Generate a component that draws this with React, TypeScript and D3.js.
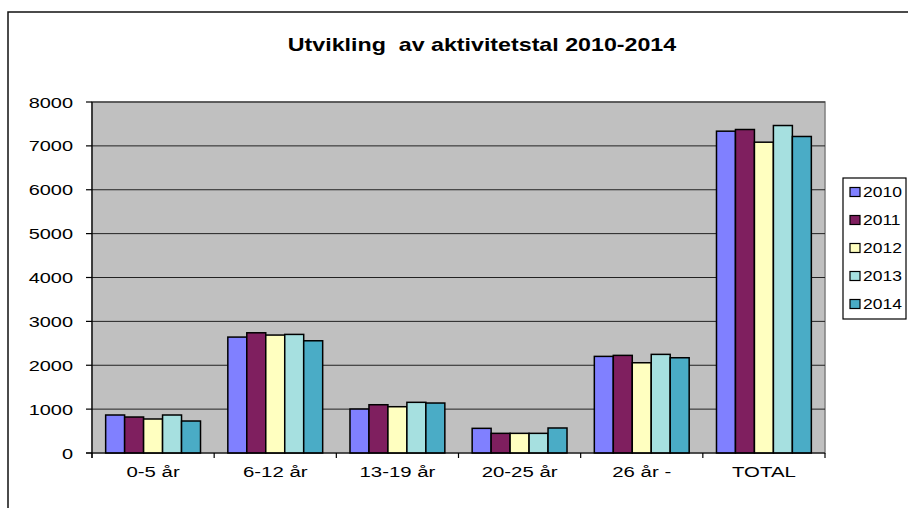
import React from 'react'
import * as d3 from 'd3'

const categories = ['0-5 år', '6-12 år', '13-19 år', '20-25 år', '26 år -', 'TOTAL']
const years = ['2010', '2011', '2012', '2013', '2014']
const values2010 = [866, 2642, 1002, 562, 2202, 7335]
const values2011 = [820, 2740, 1100, 448, 2225, 7373]
const values2012 = [775, 2688, 1055, 448, 2057, 7084]
const values2013 = [866, 2703, 1155, 448, 2248, 7464]
const values2014 = [729, 2558, 1139, 570, 2171, 7214]
const yearColors = ['#8080ff', '#7f1f5f', '#ffffc0', '#a6e0e0', '#4aacc6']
const yTicks = [0, 1000, 2000, 3000, 4000, 5000, 6000, 7000, 8000]
const title = 'Utvikling  av aktivitetstal 2010-2014'

const series = [values2010, values2011, values2012, values2013, values2014]

const App = () => {
  const svgRef = React.useRef<SVGSVGElement>(null)
  const width = 908
  const height = 508

  React.useEffect(() => {
    const svg = d3.select(svgRef.current)
    svg.selectAll('*').remove()

    const font = "'Liberation Sans', Arial, sans-serif"
    const stretch = 1.33 // the source image is widened horizontally
    const plot = { left: 92, right: 825, top: 102, bottom: 453 }

    const x0 = d3.scaleBand().domain(categories).range([plot.left, plot.right])
    const x1 = d3.scaleBand().domain(years).range([0, x0.bandwidth()]).paddingOuter(0.72)
    const y = d3.scaleLinear().domain([0, 8000]).range([plot.bottom, plot.top])

    // outer chart frame
    svg.append('rect')
      .attr('x', 8).attr('y', 12)
      .attr('width', 1000).attr('height', 1000)
      .attr('fill', 'white').attr('stroke', '#111').attr('stroke-width', 1.5)

    const stretchedText = (g, x: number, yy: number, txt: string, anchor: string, size: number, sx: number) =>
      g.append('text')
        .attr('transform', `translate(${x},${yy}) scale(${sx},1)`)
        .attr('text-anchor', anchor)
        .style('font-family', font)
        .style('font-size', `${size}px`)
        .style('white-space', 'pre')
        .text(txt)

    stretchedText(svg, 482, 51, title, 'middle', 18, 1.29).style('font-weight', 'bold')

    // plot area
    svg.append('rect')
      .attr('x', plot.left).attr('y', plot.top)
      .attr('width', plot.right - plot.left).attr('height', plot.bottom - plot.top)
      .attr('fill', '#c0c0c0').attr('stroke', '#808080').attr('stroke-width', 1.5)

    svg.append('g')
      .selectAll('line')
      .data(yTicks.slice(1))
      .join('line')
      .attr('x1', plot.left).attr('x2', plot.right)
      .attr('y1', (d) => y(d)).attr('y2', (d) => y(d))
      .attr('stroke', '#222').attr('stroke-width', 1)

    // bars
    const groups = svg.append('g')
      .selectAll('g')
      .data(categories)
      .join('g')
      .attr('transform', (d) => `translate(${x0(d)},0)`)

    groups.selectAll('rect')
      .data((d, i) => years.map((yr, k) => ({ yr, k, v: series[k][i] })))
      .join('rect')
      .attr('x', (d) => x1(d.yr))
      .attr('y', (d) => y(d.v))
      .attr('width', x1.bandwidth())
      .attr('height', (d) => plot.bottom - y(d.v))
      .attr('fill', (d) => yearColors[d.k])
      .attr('stroke', '#000').attr('stroke-width', 1.5)

    // axes
    const axes = svg.append('g').attr('stroke', '#000').attr('stroke-width', 1.2)
    axes.append('line').attr('x1', plot.left).attr('x2', plot.left).attr('y1', plot.top).attr('y2', plot.bottom + 5)
    axes.append('line').attr('x1', plot.left - 6).attr('x2', plot.right).attr('y1', plot.bottom).attr('y2', plot.bottom)
    axes.selectAll('.yt')
      .data(yTicks)
      .join('line')
      .attr('x1', plot.left - 6).attr('x2', plot.left)
      .attr('y1', (d) => y(d)).attr('y2', (d) => y(d))
    axes.selectAll('.xt')
      .data(categories.concat(['end']))
      .join('line')
      .attr('x1', (d, i) => plot.left + i * x0.step())
      .attr('x2', (d, i) => plot.left + i * x0.step())
      .attr('y1', plot.bottom).attr('y2', plot.bottom + 5)

    const labels = svg.append('g').attr('fill', '#000')
    yTicks.forEach((t) => stretchedText(labels, 73, y(t) + 5.5, String(t), 'end', 15, stretch))
    categories.forEach((c) => stretchedText(labels, x0(c) + x0.bandwidth() / 2, 477, c, 'middle', 15, 1.36))

    // legend
    const legend = svg.append('g')
    legend.append('rect')
      .attr('x', 843).attr('y', 178).attr('width', 63).attr('height', 141)
      .attr('fill', 'white').attr('stroke', '#000').attr('stroke-width', 1.2)
    years.forEach((yr, k) => {
      const cy = 192 + k * 28
      legend.append('rect')
        .attr('x', 850).attr('y', cy - 4.5).attr('width', 10).attr('height', 9)
        .attr('fill', yearColors[k]).attr('stroke', '#000').attr('stroke-width', 1.2)
      stretchedText(legend, 863, cy + 5, yr, 'start', 14, 1.25)
    })
  }, [])

  return (
    <svg
      ref={svgRef}
      width={width}
      height={height}
      style={{ position: 'absolute', left: 0, top: 0, background: 'white' }}
    />
  )
}

export default App
